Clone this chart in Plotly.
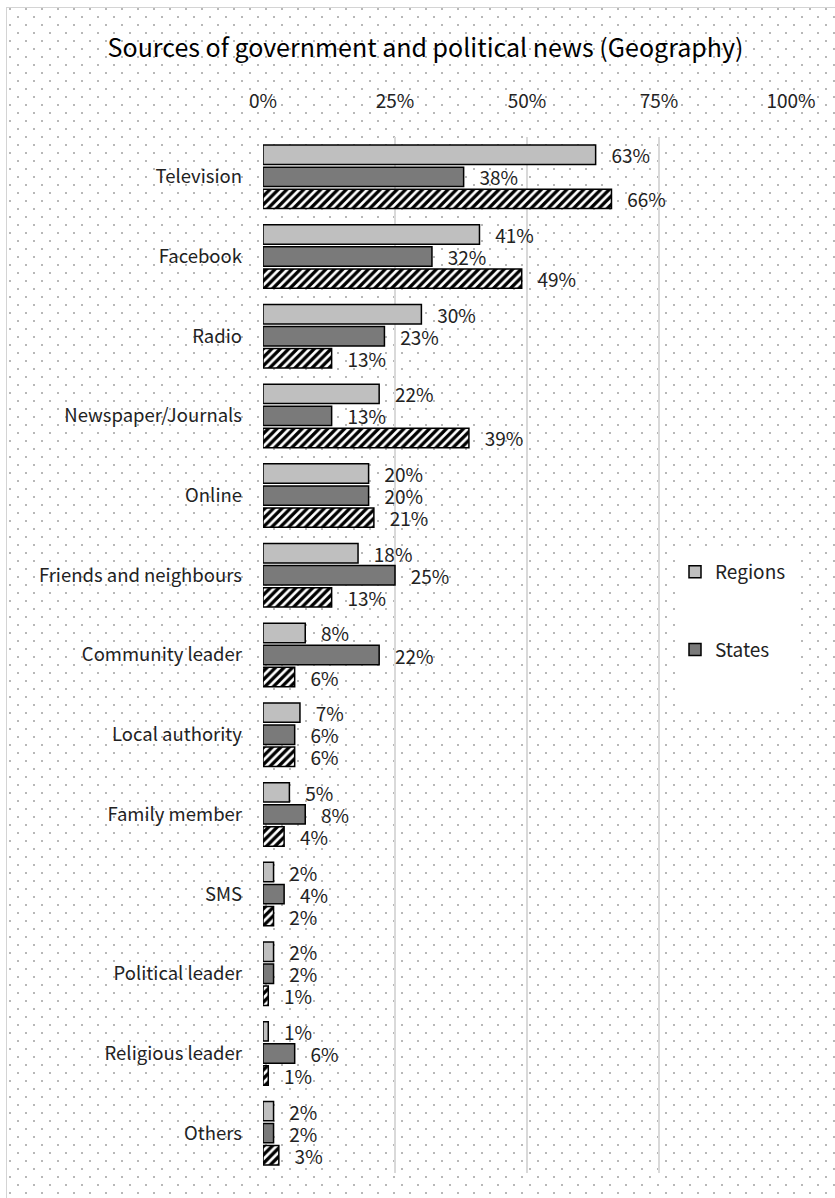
import base64
import plotly.graph_objects as go

# Survey data: share of respondents using each source (%)
categories = [
    "Television", "Facebook", "Radio", "Newspaper/Journals", "Online",
    "Friends and neighbours", "Community leader", "Local authority",
    "Family member", "SMS", "Political leader", "Religious leader", "Others",
]
regions = [63, 41, 30, 22, 20, 18, 8, 7, 5, 2, 2, 1, 2]
states = [38, 32, 23, 13, 20, 25, 22, 6, 8, 4, 2, 6, 2]
cities = [66, 49, 13, 39, 21, 13, 6, 6, 4, 2, 1, 1, 3]

x_ticks = [0, 25, 50, 75, 100]
x_tick_text = ["0%", "25%", "50%", "75%", "100%"]

W, H = 835, 1198
M_L, M_R, M_T, M_B = 263, 44, 137, 25
PW, PH = W - M_L - M_R, H - M_T - M_B

FONT = "Noto Sans CJK JP"
TXT = "#222222"

# Dotted chart-area background with a thin frame
svg = f"""<svg xmlns="http://www.w3.org/2000/svg" width="{W}" height="{H}" viewBox="0 0 {W} {H}">
<defs><pattern id="d" x="1" y="0" width="16" height="16" patternUnits="userSpaceOnUse">
<rect x="0" y="0" width="2" height="2" fill="#b8b8b8"/>
<rect x="8" y="8" width="2" height="2" fill="#b8b8b8"/></pattern></defs>
<rect x="6" y="7" width="{W}" height="{H}" fill="url(#d)"/>
<rect x="6.5" y="7.5" width="{W}" height="{H}" fill="none" stroke="#d4d4d4" stroke-width="1"/>
</svg>"""
bg_src = "data:image/svg+xml;base64," + base64.b64encode(svg.encode()).decode()

outline = dict(color="black", width=1.5)
label_font = dict(family=FONT, size=19, color=TXT)


def pct_labels(values):
    # three no-break spaces keep the label clear of the bar end
    return ["\u00a0\u00a0\u00a0" + f"{v}%" for v in values]


fig = go.Figure()
fig.add_trace(go.Bar(
    name="Regions", y=categories, x=regions, orientation="h",
    marker=dict(color="#bfbfbf", line=outline),
    text=pct_labels(regions), texttemplate="%{text}",
    textposition="outside", textfont=label_font,
    constraintext="none", cliponaxis=False, legendgroup="r",
))
fig.add_trace(go.Bar(
    name="States", y=categories, x=states, orientation="h",
    marker=dict(color="#7a7a7a", line=outline),
    text=pct_labels(states), texttemplate="%{text}",
    textposition="outside", textfont=label_font,
    constraintext="none", cliponaxis=False, legendgroup="s",
))
fig.add_trace(go.Bar(
    name="Cities", y=categories, x=cities, orientation="h",
    marker=dict(color="white", line=outline,
                pattern=dict(shape="/", fgcolor="black", bgcolor="white",
                             fillmode="replace", size=6, solidity=0.55)),
    text=pct_labels(cities), texttemplate="%{text}",
    textposition="outside", textfont=label_font,
    constraintext="none", cliponaxis=False, showlegend=False, legendgroup="c",
))


def px_x(p):
    return (p - M_L) / PW


def px_y(p):
    return (H - M_B - p) / PH


fig.update_layout(
    width=W, height=H,
    margin=dict(l=M_L, r=M_R, t=M_T, b=M_B, autoexpand=False),
    paper_bgcolor="white", plot_bgcolor="rgba(0,0,0,0)",
    barmode="group", bargap=0.17, bargroupgap=0.12,
    font=dict(family=FONT, size=19, color=TXT),
    title=dict(text="Sources of government and political news (Geography)",
               font=dict(family=FONT, size=25, color="black"),
               xref="container", yref="container",
               x=425.5 / W, y=1 - 48 / H, xanchor="center", yanchor="middle"),
    xaxis=dict(range=[0, 100], side="top", tickmode="array",
               tickvals=x_ticks, ticktext=x_tick_text,
               showgrid=True, gridcolor="#d9d9d9", gridwidth=2,
               zeroline=False, showline=False, ticks="",
               ticklabelstandoff=24, tickfont=dict(family=FONT, size=19, color=TXT),
               fixedrange=True),
    yaxis=dict(type="category", autorange="reversed", showgrid=False,
               zeroline=False, showline=False, ticks="",
               ticklabelstandoff=20, tickfont=dict(family=FONT, size=18.5, color=TXT),
               fixedrange=True),
    legend=dict(x=px_x(675), y=px_y(553), xanchor="left", yanchor="top",
                bgcolor="rgba(0,0,0,0)", traceorder="grouped", tracegroupgap=50,
                font=dict(family=FONT, size=19, color=TXT)),
    images=[dict(source=bg_src, xref="paper", yref="paper",
                 x=-M_L / PW, y=1 + M_T / PH, sizex=W / PW, sizey=H / PH,
                 xanchor="left", yanchor="top", sizing="stretch", layer="below")],
    shapes=[dict(type="rect", xref="paper", yref="paper",
                 x0=px_x(678), x1=px_x(795), y0=px_y(708), y1=px_y(549),
                 fillcolor="white", line=dict(width=0), layer="above")],
)

fig.write_html("out.html")
